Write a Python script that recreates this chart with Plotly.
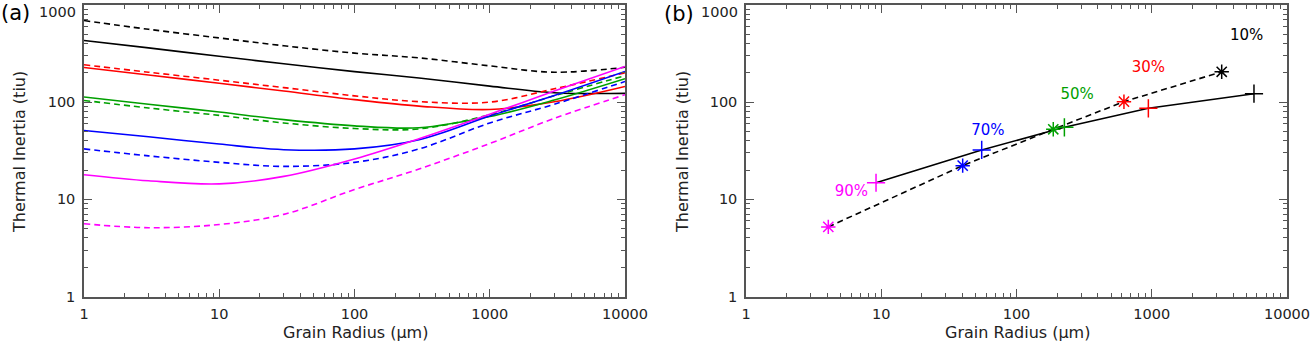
import plotly.graph_objects as go

# ---------------- data ----------------
grain_radius = [1, 3, 10, 30, 100, 300, 1000, 3000, 10000]

ti_black_dashed = [690, 561, 457, 380, 319, 285, 236, 203, 228]
ti_black_solid = [431, 361, 296, 248, 206, 177, 146, 125, 123]
ti_red_dashed = [242, 203, 168, 141, 116, 101, 100, 137, 200]
ti_red_solid = [227, 190, 156, 130, 106, 91, 84, 101, 145]
ti_green_solid = [113, 95, 79, 66, 57, 54.5, 71, 105, 174]
ti_green_dashed = [104, 87, 73, 61, 53.5, 53, 74, 116, 187]
ti_blue_solid = [51, 44, 37, 32.4, 33, 41, 72, 117, 207]
ti_blue_dashed = [33, 28, 24, 21.8, 24, 33, 61, 95, 163]
ti_magenta_solid = [17.9, 15.5, 14.4, 17.2, 26, 42, 75, 130, 233]
ti_magenta_dashed = [5.6, 5.1, 5.5, 7.0, 12.6, 20.5, 37.5, 68, 119]

porosity_labels = ["90%", "70%", "50%", "30%", "10%"]
porosity_colors = ["#FF00FF", "#0000FF", "#00A000", "#FF0000", "#000000"]

plus_radius = [9.15, 55.3, 226, 944, 5700]
plus_ti = [14.8, 32.2, 55.0, 86.3, 122]
star_radius = [4.06, 40, 187, 623, 3290]
star_ti = [5.2, 22.2, 52.5, 101, 205]
label_radius = [6.01, 61.5, 281, 943, 5035]
label_ti = [11.9, 50, 119, 224, 479]

decade_vals = [1, 10, 100, 1000, 10000]
decade_text = ["1", "10", "100", "1000", "10000"]

# ---------------- figure ----------------
fig = go.Figure()
DASH = "6px,4px"
LW = 1.6

curves = [
    (ti_black_dashed, "#000000", DASH),
    (ti_black_solid, "#000000", "solid"),
    (ti_red_dashed, "#FF0000", DASH),
    (ti_red_solid, "#FF0000", "solid"),
    (ti_green_dashed, "#00A000", DASH),
    (ti_green_solid, "#00A000", "solid"),
    (ti_blue_dashed, "#0000FF", DASH),
    (ti_blue_solid, "#0000FF", "solid"),
    (ti_magenta_dashed, "#FF00FF", DASH),
    (ti_magenta_solid, "#FF00FF", "solid"),
]
for vals, col, dash in curves:
    fig.add_trace(go.Scatter(
        x=grain_radius, y=vals, mode="lines", xaxis="x", yaxis="y",
        line=dict(color=col, width=LW, dash=dash, shape="spline", smoothing=1.0),
        showlegend=False, hoverinfo="skip"))

# panel b lines
fig.add_trace(go.Scatter(
    x=plus_radius, y=plus_ti, mode="lines", xaxis="x2", yaxis="y2",
    line=dict(color="#000000", width=LW), showlegend=False))
fig.add_trace(go.Scatter(
    x=star_radius, y=star_ti, mode="lines", xaxis="x2", yaxis="y2",
    line=dict(color="#000000", width=LW, dash=DASH), showlegend=False))
# markers
fig.add_trace(go.Scatter(
    x=plus_radius, y=plus_ti, mode="markers", xaxis="x2", yaxis="y2",
    marker=dict(symbol="cross-thin", size=13, color=porosity_colors,
                line=dict(color=porosity_colors, width=1.5)),
    showlegend=False))
fig.add_trace(go.Scatter(
    x=star_radius, y=star_ti, mode="markers", xaxis="x2", yaxis="y2",
    marker=dict(symbol="asterisk", size=12, color=porosity_colors,
                line=dict(color=porosity_colors, width=1.5)),
    showlegend=False))
fig.add_trace(go.Scatter(
    x=label_radius, y=label_ti, mode="text", xaxis="x2", yaxis="y2",
    text=porosity_labels, textposition="middle center",
    textfont=dict(family="DejaVu Sans", size=15, color=porosity_colors),
    showlegend=False))

AXC = "#555555"
minor_x = [m * d for d in [1, 10, 100, 1000] for m in range(2, 10)]
minor_y = [m * d for d in [1, 10, 100] for m in range(2, 10)]
# the top "1000" label is drawn as an annotation just below its tick (as in the source)
y_ticktext = decade_text[:3] + [""]

common_x = dict(type="log", range=[0, 4], showgrid=False, zeroline=False,
                automargin=False, ticklabeloverflow="allow",
                showline=True, linecolor=AXC, linewidth=1.5, mirror="allticks",
                ticks="inside", ticklen=8, tickwidth=1.4, tickcolor=AXC,
                tickmode="array", tickvals=decade_vals, ticktext=decade_text,
                tickfont=dict(family="DejaVu Sans", size=14.5, color="#222222"),
                ticklabelstandoff=3,
                minor=dict(ticks="inside", ticklen=4, tickwidth=1.2, tickcolor=AXC,
                           tickmode="array", tickvals=minor_x, showgrid=False))
common_y = dict(type="log", range=[0, 3], showgrid=False, zeroline=False,
                automargin=False, ticklabeloverflow="allow",
                showline=True, linecolor=AXC, linewidth=1.5, mirror="allticks",
                ticks="inside", ticklen=8, tickwidth=1.4, tickcolor=AXC,
                tickmode="array", tickvals=decade_vals[:4], ticktext=y_ticktext,
                tickfont=dict(family="DejaVu Sans", size=14.5, color="#222222"),
                ticklabelstandoff=4,
                minor=dict(ticks="inside", ticklen=4, tickwidth=1.2, tickcolor=AXC,
                           tickmode="array", tickvals=minor_y, showgrid=False))

W, H = 1312, 342
ybot, ytop = 296.5, 4.9
ydom = [(H - ybot) / H, (H - ytop) / H]

fig.update_layout(
    width=W, height=H, margin=dict(l=0, r=0, t=0, b=0, autoexpand=False),
    paper_bgcolor="white", plot_bgcolor="white",
    xaxis=dict(domain=[84 / W, 625 / W], anchor="y", **common_x),
    yaxis=dict(domain=ydom, anchor="x", **common_y),
    xaxis2=dict(domain=[746 / W, 1287 / W], anchor="y2", **common_x),
    yaxis2=dict(domain=ydom, anchor="x2", **common_y),
    showlegend=False,
)

tf = dict(family="DejaVu Sans", size=16, color="#222222")
ann = [
    dict(x=355 / W, y=(H - 332) / H, text="Grain Radius (μm)"),
    dict(x=1017 / W, y=(H - 332) / H, text="Grain Radius (μm)"),
    dict(x=19 / W, y=(H - 152) / H, text="Thermal Inertia (tiu)", textangle=-90),
    dict(x=682 / W, y=(H - 152) / H, text="Thermal Inertia (tiu)", textangle=-90),
]
for a in ann:
    fig.add_annotation(xref="paper", yref="paper", showarrow=False,
                       xanchor="center", yanchor="middle", font=tf, **a)
# "1000" y tick labels
for xr in [78, 740]:
    fig.add_annotation(xref="paper", yref="paper", x=xr / W, y=(H - 12) / H,
                       text=decade_text[3], showarrow=False, xanchor="right",
                       yanchor="middle",
                       font=dict(family="DejaVu Sans", size=14.5, color="#222222"))
fig.add_annotation(xref="paper", yref="paper", x=15 / W, y=(H - 13) / H,
                   text="(a)", showarrow=False, xanchor="center", yanchor="middle",
                   font=dict(family="DejaVu Sans", size=21, color="#000000"))
fig.add_annotation(xref="paper", yref="paper", x=679 / W, y=(H - 14) / H,
                   text="(b)", showarrow=False, xanchor="center", yanchor="middle",
                   font=dict(family="DejaVu Sans", size=21, color="#000000"))

fig.write_html("out.html")
